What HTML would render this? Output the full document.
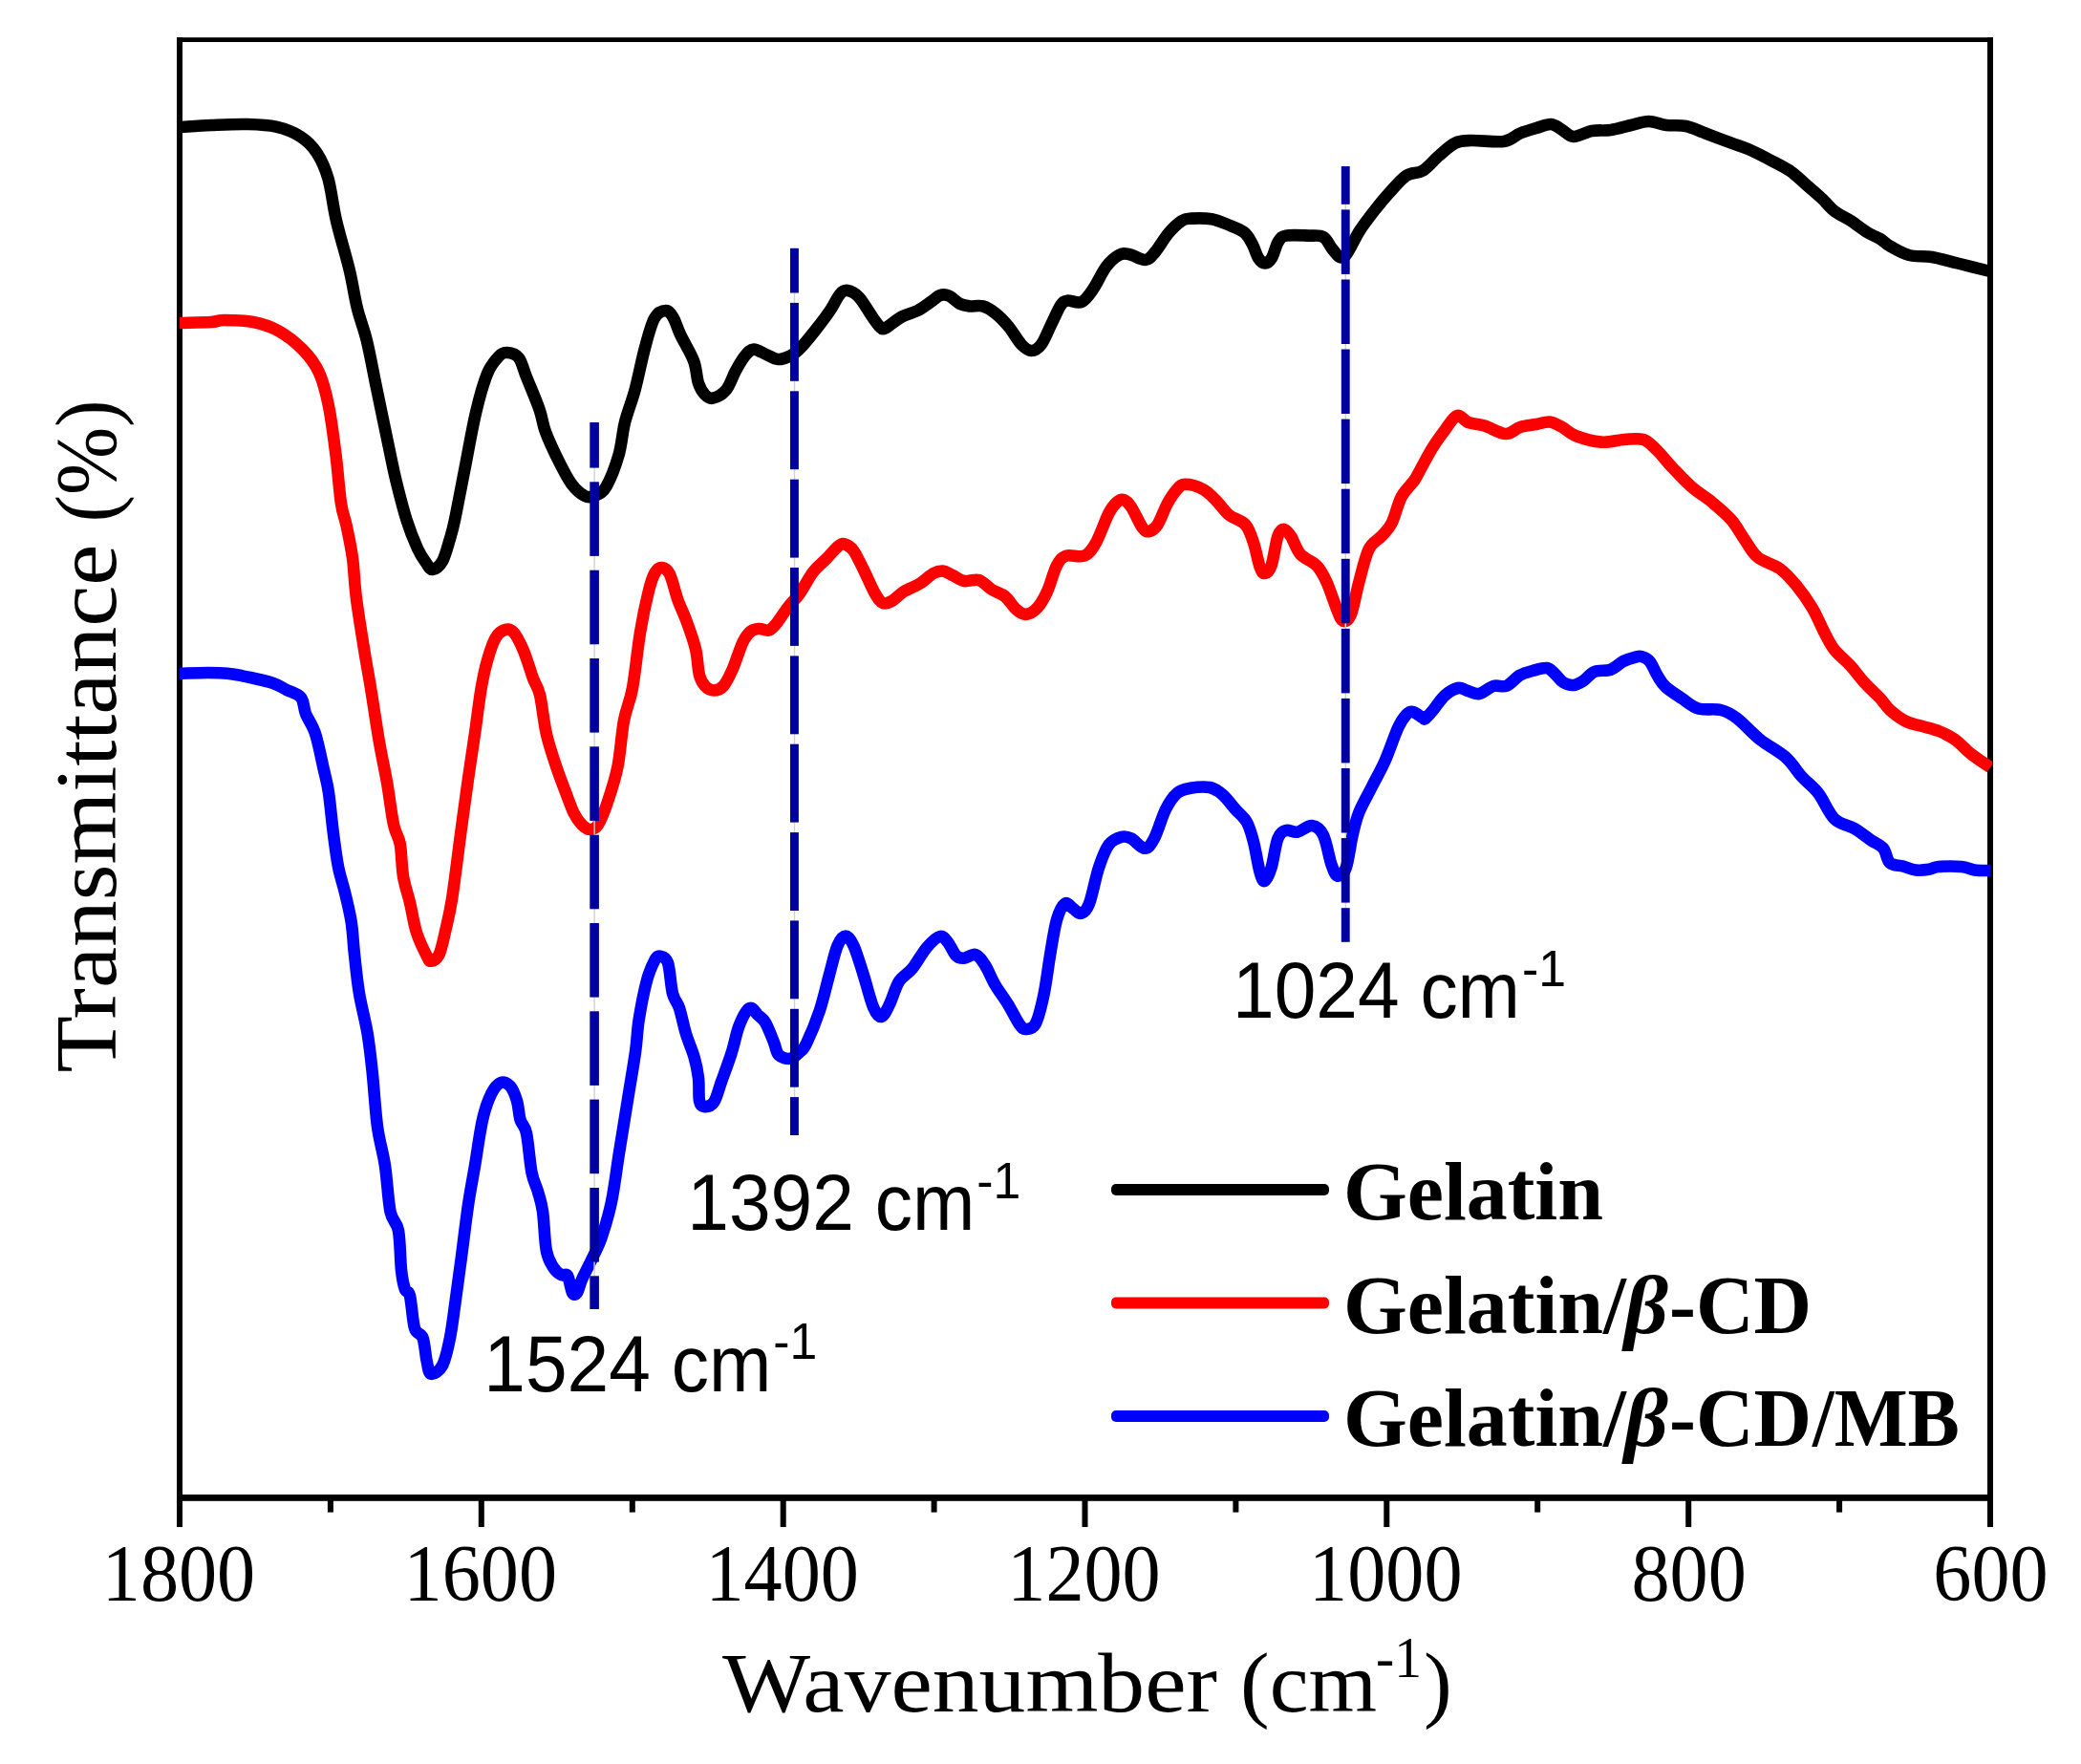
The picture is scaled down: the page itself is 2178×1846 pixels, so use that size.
<!DOCTYPE html>
<html><head><meta charset="utf-8"><title>FTIR spectra</title>
<style>
html,body{margin:0;padding:0;background:#fff;}
svg{display:block;}
.serif{font-family:"Liberation Serif","DejaVu Serif",serif;}
.sans{font-family:"Liberation Sans","DejaVu Sans",sans-serif;}
</style></head><body>
<svg width="2178" height="1846" viewBox="0 0 2178 1846">
<rect x="0" y="0" width="2178" height="1846" fill="#fff"/>
<defs><clipPath id="plot"><rect x="188" y="41.5" width="1897" height="1526"/></clipPath></defs>

<g fill="#000">
<rect x="185" y="39.2" width="6" height="1531.5"/>
<rect x="2080" y="39.2" width="6" height="1531.5"/>
<rect x="185" y="39.2" width="1901" height="4.8"/>
<rect x="185" y="1564" width="1901" height="6.8"/>
<rect x="185.0" y="1567" width="6" height="31"/>
<rect x="500.8" y="1567" width="6" height="31"/>
<rect x="816.7" y="1567" width="6" height="31"/>
<rect x="1132.5" y="1567" width="6" height="31"/>
<rect x="1448.3" y="1567" width="6" height="31"/>
<rect x="1764.2" y="1567" width="6" height="31"/>
<rect x="2080.0" y="1567" width="6" height="31"/>
<rect x="342.9" y="1567" width="6" height="15.6"/>
<rect x="658.8" y="1567" width="6" height="15.6"/>
<rect x="974.6" y="1567" width="6" height="15.6"/>
<rect x="1290.4" y="1567" width="6" height="15.6"/>
<rect x="1606.2" y="1567" width="6" height="15.6"/>
<rect x="1922.1" y="1567" width="6" height="15.6"/>
</g>
<g clip-path="url(#plot)" fill="none" stroke-linejoin="round" stroke-linecap="butt" stroke-width="12.6">
<path id="c-black" stroke="#000" d="M188.0 133.0C193.5 132.7 209.3 131.5 221.0 131.0C232.7 130.5 246.7 129.7 258.0 130.0C269.3 130.3 279.6 130.5 289.0 132.7C298.4 134.9 307.5 138.4 314.6 143.0C321.7 147.6 326.8 152.7 331.6 160.0C336.4 167.3 340.1 175.2 343.5 187.0C346.9 198.8 348.3 215.2 352.0 231.0C355.7 246.8 361.9 266.7 365.6 282.0C369.3 297.3 370.9 310.5 374.0 323.0C377.1 335.5 380.6 342.8 384.0 357.0C387.4 371.2 390.5 388.7 394.5 408.0C398.5 427.3 404.7 457.2 408.0 473.0C411.3 488.8 411.6 491.2 414.5 503.0C417.4 514.8 421.8 532.2 425.5 544.0C429.2 555.8 433.6 566.5 437.0 574.0C440.4 581.5 443.4 585.3 446.0 589.0C448.6 592.7 449.9 596.3 452.7 596.0C455.5 595.7 459.9 592.8 463.0 587.4C466.1 582.0 468.8 570.8 471.0 563.6C473.2 556.4 473.5 555.8 476.0 544.0C478.5 532.2 482.3 511.7 486.0 493.0C489.7 474.3 494.0 449.0 498.0 432.0C502.0 415.0 506.0 400.8 510.0 391.0C514.0 381.2 518.5 376.7 522.0 373.0C525.5 369.3 527.5 368.8 531.0 369.0C534.5 369.2 539.7 370.2 543.0 374.5C546.3 378.8 547.4 385.5 551.0 394.5C554.6 403.5 561.3 419.0 564.6 428.6C567.9 438.2 567.6 442.9 571.0 452.0C574.4 461.1 580.4 473.8 585.0 483.0C589.6 492.2 594.1 501.0 598.6 507.0C603.1 513.0 608.1 517.0 612.0 519.0C615.9 521.0 618.3 520.5 622.0 519.0C625.7 517.5 629.7 517.2 634.0 510.0C638.3 502.8 644.3 487.3 647.6 476.0C650.9 464.7 651.2 453.3 654.0 442.0C656.8 430.7 661.1 421.0 664.6 408.0C668.1 395.0 671.6 376.5 675.0 364.0C678.4 351.5 681.3 339.5 685.0 333.0C688.7 326.5 693.7 325.0 697.0 325.0C700.3 325.0 702.5 328.8 705.0 333.0C707.5 337.2 708.5 342.6 712.0 350.0C715.5 357.4 722.8 369.0 726.0 377.5C729.2 386.0 729.0 395.1 731.0 401.0C733.0 406.9 735.3 410.4 737.8 413.0C740.3 415.6 742.3 417.5 746.0 416.7C749.7 415.9 756.0 412.8 760.0 408.0C764.0 403.2 766.7 394.0 770.0 388.0C773.3 382.0 776.9 375.7 780.0 372.0C783.1 368.3 785.1 365.8 788.8 365.6C792.5 365.4 797.8 369.3 802.0 371.0C806.2 372.7 809.7 375.8 814.0 376.0C818.3 376.2 824.0 374.0 828.0 372.0C832.0 370.0 833.5 368.8 838.0 364.0C842.5 359.2 849.9 350.0 855.0 343.5C860.1 337.0 864.7 330.9 868.7 325.0C872.7 319.1 876.0 311.5 879.0 308.0C882.0 304.5 883.7 303.5 887.0 304.0C890.3 304.5 894.7 306.4 899.0 311.0C903.3 315.6 909.3 326.4 913.0 331.6C916.7 336.8 918.8 340.0 921.0 342.0C923.2 344.0 922.8 345.2 926.5 343.5C930.2 341.8 937.8 334.7 943.5 331.6C949.2 328.5 955.4 327.6 960.5 325.0C965.6 322.4 970.1 318.7 974.0 316.0C977.9 313.3 980.8 310.1 984.0 309.0C987.2 307.9 989.5 308.0 993.0 309.5C996.5 311.0 1001.1 316.2 1004.8 318.0C1008.5 319.8 1011.0 320.0 1015.0 320.4C1019.0 320.8 1024.1 319.1 1028.6 320.4C1033.1 321.7 1037.5 324.4 1042.0 328.0C1046.5 331.6 1051.3 336.6 1055.8 342.0C1060.3 347.4 1065.0 356.3 1069.0 360.5C1073.0 364.7 1076.1 367.0 1079.6 367.0C1083.1 367.0 1086.4 365.0 1089.8 360.5C1093.2 356.0 1096.6 346.8 1100.0 340.0C1103.4 333.2 1107.2 323.9 1110.0 319.7C1112.8 315.5 1113.3 315.2 1117.0 314.6C1120.7 314.0 1127.5 318.0 1132.0 316.0C1136.5 314.0 1139.7 308.9 1144.0 302.7C1148.3 296.5 1153.3 284.9 1157.8 279.0C1162.3 273.1 1167.0 269.2 1171.0 267.0C1175.0 264.8 1177.0 265.2 1181.6 266.0C1186.2 266.8 1194.1 272.3 1198.6 272.0C1203.1 271.7 1204.7 268.7 1208.8 264.0C1212.9 259.3 1218.3 249.5 1223.0 244.0C1227.7 238.5 1233.0 233.6 1237.0 231.0C1241.0 228.4 1241.8 228.9 1247.0 228.6C1252.2 228.3 1261.7 228.2 1268.0 229.3C1274.3 230.4 1279.3 232.7 1285.0 235.0C1290.7 237.3 1297.8 239.7 1302.0 243.0C1306.2 246.3 1308.0 250.5 1310.5 255.0C1313.0 259.5 1314.8 266.6 1317.0 270.0C1319.2 273.4 1321.7 275.5 1324.0 275.5C1326.3 275.5 1328.7 273.8 1331.0 270.0C1333.3 266.2 1335.3 256.9 1337.8 253.0C1340.3 249.1 1340.6 247.7 1346.0 246.6C1351.4 245.5 1363.5 246.4 1370.0 246.6C1376.5 246.8 1381.0 245.8 1385.0 248.0C1389.0 250.2 1391.2 256.5 1394.0 260.0C1396.8 263.5 1399.7 267.8 1402.0 269.0C1404.3 270.2 1406.0 269.3 1408.0 267.5C1410.0 265.7 1411.5 262.3 1414.0 258.0C1416.5 253.7 1419.0 247.7 1423.0 241.5C1427.0 235.3 1432.7 227.8 1438.0 221.0C1443.3 214.2 1449.3 206.9 1455.0 200.7C1460.7 194.5 1466.3 187.4 1472.0 183.7C1477.7 180.0 1483.3 182.0 1489.0 178.6C1494.7 175.2 1500.3 167.8 1506.0 163.0C1511.7 158.2 1517.3 152.4 1523.0 149.7C1528.7 147.0 1531.5 147.3 1540.0 147.0C1548.5 146.7 1565.5 149.2 1574.0 148.0C1582.5 146.8 1585.3 141.8 1591.0 139.5C1596.7 137.2 1602.6 135.6 1608.0 134.0C1613.4 132.4 1619.0 129.7 1623.5 130.0C1628.0 130.3 1631.1 133.8 1635.0 136.0C1638.9 138.2 1641.8 142.8 1647.0 143.0C1652.2 143.2 1659.5 138.2 1666.0 137.0C1672.5 135.8 1679.2 137.0 1686.0 136.0C1692.8 135.0 1700.4 132.5 1707.0 131.0C1713.6 129.5 1719.3 127.0 1725.5 127.0C1731.7 127.0 1737.5 130.2 1744.0 131.0C1750.5 131.8 1757.8 130.6 1764.6 132.0C1771.4 133.4 1777.1 136.6 1785.0 139.5C1792.9 142.4 1804.7 147.0 1812.0 149.7C1819.3 152.4 1822.7 153.1 1829.0 155.8C1835.3 158.5 1842.7 162.2 1850.0 166.0C1857.3 169.8 1866.3 174.0 1873.0 178.5C1879.7 183.0 1884.4 188.2 1890.0 193.0C1895.6 197.8 1901.6 202.8 1906.6 207.5C1911.6 212.2 1914.9 217.1 1920.0 221.0C1925.1 224.9 1931.3 227.3 1937.0 231.0C1942.7 234.7 1948.9 239.8 1954.0 243.0C1959.1 246.2 1963.8 247.6 1967.8 250.0C1971.8 252.4 1973.0 254.7 1978.0 257.5C1983.0 260.3 1990.7 265.1 1998.0 267.0C2005.3 268.9 2013.5 267.6 2022.0 269.0C2030.5 270.4 2038.8 273.0 2049.0 275.5C2059.2 278.0 2077.3 282.6 2083.0 284.0"/>
<path id="c-red" stroke="#ff0000" d="M188.0 338.0C193.5 337.8 213.2 337.5 221.0 337.0C228.8 336.5 227.4 335.0 234.7 335.0C242.0 335.0 255.6 335.2 265.0 337.0C274.4 338.8 282.3 341.2 291.0 346.0C299.7 350.8 309.8 358.7 317.0 366.0C324.2 373.3 329.5 380.2 334.0 390.0C338.5 399.8 341.1 410.7 344.0 425.0C346.9 439.3 349.3 459.0 351.5 476.0C353.7 493.0 355.1 514.7 357.0 527.0C358.9 539.3 360.6 540.5 362.6 550.0C364.6 559.5 367.3 571.5 369.0 584.0C370.7 596.5 370.8 609.2 372.8 625.0C374.8 640.8 378.5 663.2 381.0 679.0C383.5 694.8 385.4 704.1 388.0 720.0C390.6 735.9 393.8 758.0 396.6 774.5C399.4 791.0 402.4 804.0 405.0 818.7C407.6 833.5 409.7 852.3 412.0 863.0C414.3 873.7 417.0 874.0 418.7 883.0C420.4 892.0 420.3 906.7 422.0 917.0C423.7 927.3 426.7 934.9 429.0 944.6C431.3 954.3 432.9 965.9 435.7 975.0C438.5 984.1 443.4 993.9 446.0 999.0C448.6 1004.1 448.8 1005.8 451.0 1005.8C453.2 1005.8 457.0 1004.1 459.5 999.0C462.0 993.9 463.8 984.7 466.0 975.0C468.2 965.3 470.4 957.4 473.0 941.0C475.6 924.6 478.8 897.5 481.6 876.5C484.4 855.5 487.4 833.1 490.0 815.0C492.6 796.9 494.7 783.5 497.0 767.7C499.3 751.9 501.4 733.0 503.7 720.0C505.9 707.0 507.9 698.3 510.5 689.5C513.0 680.7 515.9 672.1 519.0 667.0C522.1 661.9 525.9 659.6 529.0 658.8C532.1 658.0 534.6 658.3 537.8 662.0C541.0 665.7 544.6 673.0 548.0 681.0C551.4 689.0 555.2 702.3 558.0 710.0C560.8 717.7 562.7 717.4 565.0 727.0C567.3 736.6 569.0 755.2 571.8 767.7C574.6 780.2 578.6 791.5 582.0 801.7C585.4 811.9 588.9 820.8 592.0 829.0C595.1 837.2 597.9 845.3 600.7 851.0C603.5 856.7 606.2 860.2 609.0 863.0C611.8 865.8 614.9 868.0 617.7 868.0C620.5 868.0 623.0 867.8 626.0 863.0C629.0 858.2 632.6 849.2 636.0 839.0C639.4 828.8 643.8 815.9 646.6 801.7C649.4 787.5 650.4 767.6 653.0 754.0C655.6 740.4 659.2 735.3 662.0 720.0C664.8 704.7 667.2 679.0 670.0 662.0C672.8 645.0 676.4 628.5 679.0 618.0C681.6 607.5 683.4 603.0 685.7 599.0C688.0 595.0 690.5 593.7 693.0 594.0C695.5 594.3 698.2 595.3 701.0 601.0C703.8 606.7 706.7 620.1 709.5 628.0C712.3 635.9 714.9 640.1 718.0 648.6C721.1 657.1 725.7 669.4 728.0 679.0C730.3 688.6 730.3 700.0 732.0 706.5C733.7 713.0 735.5 715.3 738.0 718.0C740.5 720.7 743.8 722.5 747.0 722.5C750.2 722.5 753.7 721.8 757.0 718.0C760.3 714.2 763.6 707.4 767.0 699.7C770.4 692.0 774.3 678.5 777.5 672.0C780.7 665.5 783.1 662.8 786.0 660.5C788.9 658.2 791.5 658.2 794.6 658.0C797.7 657.8 801.7 660.5 804.8 659.5C807.9 658.5 809.6 656.1 813.0 652.0C816.4 647.9 821.0 640.2 825.0 635.0C829.0 629.8 832.7 627.1 837.0 621.0C841.3 614.9 846.4 604.6 851.0 598.6C855.6 592.6 860.1 589.6 864.6 585.0C869.1 580.4 874.6 573.5 878.0 571.0C881.4 568.5 882.4 568.8 885.0 569.7C887.6 570.6 890.2 571.7 893.5 576.5C896.8 581.3 901.3 591.2 905.0 598.6C908.7 606.0 912.4 615.3 915.6 620.7C918.8 626.1 920.9 629.7 924.0 631.0C927.1 632.3 930.3 630.6 934.0 628.6C937.7 626.6 941.2 622.0 946.0 619.0C950.8 616.0 957.9 613.7 963.0 610.5C968.1 607.3 972.9 602.1 976.9 600.0C980.9 597.9 983.6 597.3 987.0 597.6C990.4 597.9 993.3 600.3 997.0 602.0C1000.7 603.7 1004.4 607.2 1009.0 608.0C1013.6 608.8 1019.7 605.5 1024.5 607.0C1029.3 608.5 1033.5 614.2 1038.0 617.0C1042.5 619.8 1047.4 620.5 1051.7 624.0C1056.0 627.5 1059.9 634.6 1063.6 637.8C1067.3 640.9 1070.1 643.2 1073.8 642.9C1077.5 642.6 1082.0 640.0 1085.7 636.0C1089.4 632.0 1092.6 626.4 1096.0 619.0C1099.4 611.6 1102.7 598.0 1106.0 591.8C1109.3 585.6 1111.2 583.3 1116.0 581.6C1120.8 579.9 1129.8 583.9 1135.0 581.6C1140.2 579.3 1142.8 575.4 1147.0 568.0C1151.2 560.6 1156.8 544.1 1160.5 537.0C1164.2 529.9 1166.4 527.8 1169.0 525.5C1171.6 523.2 1173.4 522.1 1175.9 523.0C1178.4 523.9 1180.7 525.6 1184.0 530.6C1187.3 535.6 1192.8 548.5 1196.0 552.7C1199.2 556.9 1200.4 556.6 1203.0 556.0C1205.6 555.4 1208.5 553.8 1211.6 549.0C1214.7 544.2 1218.4 533.2 1221.8 527.0C1225.2 520.8 1228.9 515.4 1232.0 512.0C1235.1 508.6 1236.0 506.8 1240.5 506.8C1245.0 506.8 1253.6 509.2 1259.0 512.0C1264.4 514.8 1268.2 519.3 1272.8 523.8C1277.4 528.3 1281.3 534.8 1286.4 539.0C1291.5 543.2 1299.1 544.2 1303.4 549.0C1307.7 553.8 1309.5 560.6 1312.0 568.0C1314.5 575.4 1316.7 588.2 1318.7 593.5C1320.7 598.8 1321.8 600.3 1323.8 600.0C1325.8 599.7 1328.3 598.3 1330.6 591.8C1332.9 585.3 1335.2 567.4 1337.4 561.0C1339.6 554.6 1341.2 553.7 1343.5 553.7C1345.8 553.7 1348.1 556.6 1351.0 561.0C1353.9 565.4 1356.5 574.9 1361.0 580.0C1365.5 585.1 1373.4 587.0 1378.0 591.8C1382.6 596.6 1385.0 601.4 1388.4 608.8C1391.8 616.2 1395.8 629.2 1398.6 636.0C1401.4 642.8 1402.8 648.6 1405.4 649.7C1408.0 650.9 1411.2 649.7 1414.0 642.9C1416.8 636.1 1419.3 620.1 1422.4 608.8C1425.5 597.4 1428.7 582.8 1432.6 574.8C1436.5 566.8 1442.0 565.5 1446.0 561.0C1450.0 556.5 1453.0 554.4 1456.5 547.6C1460.0 540.8 1462.8 527.4 1466.7 520.0C1470.6 512.6 1476.8 507.5 1480.0 503.0C1483.2 498.5 1482.5 498.7 1485.7 493.0C1488.9 487.3 1494.5 476.3 1499.0 469.0C1503.5 461.7 1508.7 454.7 1513.0 449.0C1517.3 443.3 1521.0 436.2 1525.0 435.0C1529.0 433.8 1531.9 440.2 1536.7 442.0C1541.5 443.8 1547.2 443.6 1553.7 445.6C1560.2 447.6 1569.7 453.8 1575.9 454.0C1582.1 454.2 1585.7 448.7 1591.0 447.0C1596.3 445.3 1602.9 444.9 1608.0 444.0C1613.1 443.1 1617.3 441.0 1621.8 441.5C1626.3 442.0 1630.5 444.6 1635.0 447.0C1639.5 449.4 1642.2 453.4 1649.0 456.0C1655.8 458.6 1667.5 461.9 1676.0 462.6C1684.5 463.3 1692.7 460.4 1700.0 460.0C1707.3 459.6 1714.3 458.2 1720.0 460.0C1725.7 461.8 1728.8 466.0 1734.0 471.0C1739.2 476.0 1744.8 483.5 1751.0 490.0C1757.2 496.5 1764.2 504.1 1771.0 510.0C1777.8 515.9 1785.0 519.8 1791.8 525.5C1798.6 531.2 1806.3 537.5 1812.0 544.0C1817.7 550.5 1821.3 558.1 1825.9 564.6C1830.5 571.1 1833.4 577.9 1839.5 583.0C1845.6 588.1 1855.9 590.2 1862.6 595.0C1869.3 599.8 1873.9 605.2 1879.6 612.0C1885.3 618.8 1891.5 627.5 1896.6 636.0C1901.7 644.5 1906.1 655.7 1910.0 663.0C1913.9 670.3 1915.5 674.3 1920.0 680.0C1924.5 685.7 1931.8 691.3 1937.0 697.0C1942.2 702.7 1945.8 708.3 1951.0 714.0C1956.2 719.7 1963.5 726.2 1968.0 731.0C1972.5 735.8 1973.5 739.0 1978.0 743.0C1982.5 747.0 1989.3 752.2 1995.0 755.0C2000.7 757.8 2006.3 758.3 2012.0 760.0C2017.7 761.7 2023.3 762.7 2029.0 765.0C2034.7 767.3 2040.3 769.8 2046.0 773.8C2051.7 777.8 2056.8 784.1 2063.0 789.0C2069.2 793.9 2079.7 800.7 2083.0 803.0"/>
<path id="c-blue" stroke="#0000ff" d="M188.0 704.8C193.0 704.7 209.7 704.0 218.0 704.0C226.3 704.0 230.7 704.0 238.0 704.8C245.3 705.6 254.0 707.3 262.0 709.0C270.0 710.7 279.7 712.9 286.0 715.0C292.3 717.1 294.9 719.3 299.7 721.8C304.5 724.3 311.6 725.8 315.0 730.0C318.4 734.2 317.5 740.7 320.0 747.0C322.5 753.3 326.9 758.0 330.0 767.7C333.1 777.4 336.5 794.8 338.8 805.0C341.1 815.2 342.2 817.7 343.9 829.0C345.6 840.3 347.3 860.0 349.0 873.0C350.7 886.0 352.0 896.8 354.0 907.0C356.0 917.2 358.7 924.3 361.0 934.0C363.3 943.7 366.0 954.2 367.7 965.0C369.4 975.8 369.6 986.5 371.0 999.0C372.4 1011.5 373.7 1026.0 376.0 1039.8C378.3 1053.6 382.4 1068.1 384.7 1082.0C387.0 1095.9 388.1 1106.8 389.8 1123.0C391.5 1139.2 392.8 1162.8 395.0 1179.0C397.2 1195.2 400.8 1205.2 403.0 1220.0C405.2 1234.8 406.2 1256.4 408.5 1267.7C410.8 1279.0 415.1 1277.8 417.0 1288.0C418.9 1298.2 418.9 1318.8 420.0 1329.0C421.1 1339.2 422.3 1344.5 423.8 1349.0C425.3 1353.5 427.3 1349.2 429.0 1356.0C430.7 1362.8 431.8 1382.7 434.0 1390.0C436.2 1397.3 440.4 1394.3 442.5 1400.0C444.6 1405.7 445.2 1417.7 446.6 1424.0C448.0 1430.3 448.3 1437.0 451.0 1437.8C453.7 1438.6 459.7 1435.3 463.0 1429.0C466.3 1422.7 468.8 1411.0 471.0 1400.0C473.2 1389.0 474.5 1377.2 476.5 1363.0C478.5 1348.8 480.8 1332.0 483.0 1315.0C485.2 1298.0 487.7 1276.8 490.0 1261.0C492.3 1245.2 494.5 1234.8 497.0 1220.0C499.5 1205.2 502.2 1184.5 505.0 1172.0C507.8 1159.5 510.8 1151.5 514.0 1145.0C517.2 1138.5 520.7 1134.4 524.0 1133.0C527.3 1131.6 531.2 1133.5 534.0 1136.7C536.8 1139.9 539.2 1146.1 541.0 1152.0C542.8 1157.9 542.9 1166.3 544.6 1172.0C546.3 1177.7 549.0 1176.8 551.0 1186.0C553.0 1195.2 554.5 1216.8 556.5 1227.0C558.5 1237.2 561.1 1240.2 563.0 1247.0C564.9 1253.8 566.5 1257.5 568.0 1267.7C569.5 1278.0 570.0 1298.9 571.8 1308.5C573.6 1318.1 576.1 1321.2 578.6 1325.5C581.1 1329.8 584.4 1332.4 587.0 1334.0C589.6 1335.6 592.0 1331.9 594.0 1335.0C596.0 1338.1 597.3 1349.8 599.0 1352.7C600.7 1355.7 602.3 1355.0 604.0 1352.7C605.7 1350.4 606.5 1344.7 609.0 1339.0C611.5 1333.3 615.6 1326.0 619.0 1318.7C622.4 1311.4 626.1 1305.2 629.6 1295.0C633.1 1284.8 636.9 1272.2 640.0 1257.5C643.1 1242.8 645.2 1224.1 648.0 1206.5C650.8 1188.9 654.0 1169.6 656.8 1152.0C659.6 1134.4 663.0 1115.2 665.0 1101.0C667.0 1086.8 666.7 1079.5 668.7 1067.0C670.7 1054.5 674.2 1036.5 677.0 1026.0C679.8 1015.5 683.4 1008.2 685.7 1004.0C688.0 999.8 688.6 1000.1 690.8 1000.7C693.0 1001.3 696.8 1001.0 699.0 1007.5C701.2 1014.0 702.0 1031.9 704.0 1039.8C706.0 1047.7 708.7 1048.0 711.0 1055.0C713.3 1062.0 715.4 1073.5 718.0 1082.0C720.6 1090.5 724.3 1098.3 726.5 1106.0C728.7 1113.7 730.1 1120.3 731.0 1128.0C731.9 1135.7 731.0 1147.0 732.0 1152.0C733.0 1157.0 734.2 1157.7 736.7 1158.0C739.2 1158.3 744.0 1158.0 747.0 1153.7C750.0 1149.4 751.9 1140.6 755.0 1132.0C758.1 1123.4 762.6 1111.5 765.6 1102.0C768.6 1092.5 770.4 1082.2 773.0 1075.0C775.6 1067.8 778.7 1061.8 781.0 1058.5C783.3 1055.2 784.7 1054.4 786.7 1055.0C788.7 1055.6 790.6 1059.5 793.0 1062.0C795.4 1064.5 798.2 1065.2 801.0 1070.0C803.8 1074.8 807.7 1085.1 810.0 1090.8C812.3 1096.5 812.2 1101.2 815.0 1104.0C817.8 1106.8 823.3 1108.3 827.0 1107.8C830.7 1107.3 834.2 1103.6 837.0 1101.0C839.8 1098.4 840.5 1099.2 844.0 1092.0C847.5 1084.8 853.8 1069.8 857.8 1057.8C861.8 1045.8 864.9 1031.3 868.0 1020.0C871.1 1008.7 873.7 996.5 876.5 989.8C879.3 983.1 882.2 979.6 885.0 979.6C887.8 979.6 890.4 983.1 893.5 989.8C896.6 996.5 900.3 1009.3 903.7 1020.0C907.1 1030.7 910.9 1046.7 914.0 1054.0C917.1 1061.3 919.6 1064.5 922.4 1064.0C925.2 1063.5 927.9 1057.2 931.0 1051.0C934.1 1044.8 937.0 1033.2 941.0 1027.0C945.0 1020.8 950.0 1019.5 954.8 1013.6C959.6 1007.7 965.2 997.1 970.0 991.5C974.8 985.9 980.0 980.9 983.7 980.0C987.4 979.1 989.2 982.7 992.0 986.0C994.8 989.3 997.9 997.2 1000.7 1000.0C1003.5 1002.8 1005.6 1002.9 1009.0 1002.7C1012.4 1002.5 1017.3 997.8 1021.0 999.0C1024.7 1000.2 1027.6 1004.7 1031.0 1010.0C1034.4 1015.3 1037.5 1023.8 1041.5 1030.6C1045.5 1037.4 1050.8 1044.1 1055.0 1051.0C1059.2 1057.9 1063.9 1067.7 1067.0 1072.0C1070.1 1076.3 1071.0 1077.2 1073.8 1077.0C1076.6 1076.8 1080.9 1077.0 1084.0 1071.0C1087.1 1065.0 1090.0 1052.6 1092.5 1040.8C1095.0 1029.0 1096.8 1013.0 1099.0 1000.0C1101.2 987.0 1103.4 971.7 1106.0 962.6C1108.6 953.5 1111.8 947.6 1114.6 945.6C1117.4 943.6 1120.2 949.0 1123.0 950.7C1125.8 952.4 1128.8 956.6 1131.6 955.8C1134.4 954.9 1136.9 953.6 1140.0 945.6C1143.1 937.6 1146.6 918.3 1150.0 908.0C1153.4 897.7 1156.5 889.4 1160.5 884.0C1164.5 878.6 1170.1 876.9 1174.0 875.8C1177.9 874.7 1180.0 875.5 1184.0 877.5C1188.0 879.5 1194.0 887.7 1198.0 887.7C1202.0 887.7 1204.3 884.3 1208.0 877.5C1211.7 870.7 1216.0 854.9 1220.0 847.0C1224.0 839.1 1227.7 833.7 1232.0 830.0C1236.3 826.3 1239.9 825.8 1245.6 824.8C1251.3 823.8 1260.3 822.9 1266.0 824.0C1271.7 825.1 1275.1 827.8 1279.6 831.6C1284.1 835.4 1288.8 842.2 1293.0 847.0C1297.2 851.8 1301.8 854.8 1305.0 860.5C1308.2 866.2 1309.7 872.2 1312.0 881.0C1314.3 889.8 1316.7 906.2 1318.7 913.0C1320.7 919.8 1321.8 922.6 1323.8 921.8C1325.8 921.0 1328.3 915.4 1330.6 908.0C1332.9 900.6 1334.8 884.0 1337.4 877.5C1340.0 871.0 1342.6 870.1 1346.0 869.0C1349.4 867.9 1353.3 871.5 1357.8 870.7C1362.3 869.9 1368.5 863.5 1373.0 864.0C1377.5 864.5 1381.6 867.2 1385.0 874.0C1388.4 880.8 1391.0 897.7 1393.5 904.8C1396.0 911.9 1397.5 916.2 1400.0 916.7C1402.5 917.2 1406.2 915.1 1408.8 908.0C1411.4 900.9 1413.3 883.7 1415.6 874.0C1417.9 864.3 1419.0 858.5 1422.4 850.0C1425.8 841.5 1431.5 832.0 1436.0 823.0C1440.5 814.0 1445.2 806.2 1449.7 796.0C1454.2 785.8 1459.3 770.0 1463.0 762.0C1466.7 754.0 1469.2 750.8 1471.8 748.0C1474.4 745.2 1475.8 744.5 1478.6 745.0C1481.4 745.5 1486.6 749.8 1488.8 751.0C1491.0 752.2 1489.9 753.3 1491.8 752.0C1493.7 750.7 1496.6 747.0 1500.0 743.0C1503.4 739.0 1507.7 731.8 1512.0 728.0C1516.3 724.2 1521.9 720.9 1525.9 720.0C1529.9 719.1 1532.3 721.8 1536.0 722.8C1539.7 723.8 1543.5 726.8 1548.0 726.0C1552.5 725.2 1558.2 719.4 1563.0 718.0C1567.8 716.6 1572.3 719.6 1576.9 717.7C1581.5 715.8 1586.0 709.4 1590.5 706.8C1595.0 704.2 1599.2 703.3 1604.0 702.0C1608.8 700.7 1615.0 698.4 1619.0 699.0C1623.0 699.6 1625.1 703.3 1627.9 705.8C1630.7 708.3 1632.9 712.1 1636.0 714.0C1639.1 715.9 1643.1 717.2 1646.6 717.0C1650.1 716.8 1653.3 714.9 1657.0 712.6C1660.7 710.3 1663.9 705.0 1668.7 703.0C1673.5 701.0 1680.7 702.5 1685.7 700.7C1690.8 698.9 1694.8 694.1 1699.0 692.0C1703.2 689.9 1707.8 688.6 1711.0 687.8C1714.2 687.0 1715.4 686.3 1718.0 687.0C1720.6 687.7 1723.7 688.6 1726.5 692.0C1729.3 695.4 1732.2 703.0 1735.0 707.5C1737.8 712.0 1739.2 715.1 1743.5 719.0C1747.8 722.9 1754.8 727.2 1760.5 731.0C1766.2 734.8 1770.8 739.5 1777.5 741.5C1784.2 743.5 1794.2 741.3 1801.0 743.0C1807.8 744.7 1811.2 746.6 1818.0 751.7C1824.8 756.8 1833.5 767.0 1842.0 773.8C1850.5 780.6 1861.7 786.0 1869.0 792.5C1876.3 799.0 1880.3 806.8 1886.0 813.0C1891.7 819.2 1897.3 822.7 1903.0 830.0C1908.7 837.3 1913.7 850.8 1920.0 857.0C1926.3 863.2 1934.5 863.3 1940.8 867.0C1947.1 870.7 1952.8 875.5 1957.8 879.0C1962.8 882.5 1967.6 883.7 1971.0 887.7C1974.4 891.7 1974.5 899.9 1978.0 903.0C1981.5 906.1 1987.3 905.2 1991.8 906.5C1996.3 907.8 2000.5 910.0 2005.0 910.5C2009.5 911.0 2015.0 910.4 2019.0 909.8C2023.0 909.2 2023.3 907.5 2029.0 907.0C2034.7 906.5 2046.7 906.4 2053.0 907.0C2059.3 907.6 2061.7 909.8 2066.7 910.5C2071.7 911.2 2080.3 910.9 2083.0 911.0"/>
</g>
<g id="dashes">
<line x1="622.1" y1="442.0" x2="622.1" y2="1370.0" stroke="#d0d0d0" stroke-width="1.4"/><g fill="#0000a0"><rect x="617.3" y="442.0" width="9.6" height="47.6"/><rect x="617.3" y="504.3" width="9.6" height="77.6"/><rect x="617.3" y="596.7" width="9.6" height="77.6"/><rect x="617.3" y="689.0" width="9.6" height="77.6"/><rect x="617.3" y="781.3" width="9.6" height="77.6"/><rect x="617.3" y="873.7" width="9.6" height="77.6"/><rect x="617.3" y="966.0" width="9.6" height="77.6"/><rect x="617.3" y="1058.3" width="9.6" height="77.6"/><rect x="617.3" y="1150.6" width="9.6" height="77.6"/><rect x="617.3" y="1243.0" width="9.6" height="77.6"/><rect x="617.3" y="1335.3" width="9.6" height="34.7"/></g>
<line x1="831.5" y1="259.8" x2="831.5" y2="1188.0" stroke="#d0d0d0" stroke-width="1.4"/><g fill="#0000a0"><rect x="827.0" y="259.8" width="8.9" height="46.7"/><rect x="827.0" y="316.9" width="8.9" height="81.9"/><rect x="827.0" y="409.3" width="8.9" height="81.9"/><rect x="827.0" y="501.7" width="8.9" height="81.9"/><rect x="827.0" y="594.0" width="8.9" height="81.9"/><rect x="827.0" y="686.4" width="8.9" height="81.9"/><rect x="827.0" y="778.7" width="8.9" height="81.9"/><rect x="827.0" y="871.1" width="8.9" height="81.9"/><rect x="827.0" y="963.4" width="8.9" height="81.9"/><rect x="827.0" y="1055.8" width="8.9" height="81.9"/><rect x="827.0" y="1148.1" width="8.9" height="39.9"/></g>
<line x1="1408.3" y1="174.0" x2="1408.3" y2="985.8" stroke="#d0d0d0" stroke-width="1.4"/><g fill="#0000a0"><rect x="1403.8" y="174.0" width="8.9" height="39.8"/><rect x="1403.8" y="219.4" width="8.9" height="67.5"/><rect x="1403.8" y="292.5" width="8.9" height="67.5"/><rect x="1403.8" y="365.5" width="8.9" height="67.5"/><rect x="1403.8" y="438.6" width="8.9" height="67.5"/><rect x="1403.8" y="511.7" width="8.9" height="67.5"/><rect x="1403.8" y="584.8" width="8.9" height="67.5"/><rect x="1403.8" y="657.9" width="8.9" height="67.5"/><rect x="1403.8" y="730.9" width="8.9" height="67.5"/><rect x="1403.8" y="804.0" width="8.9" height="67.5"/><rect x="1403.8" y="877.1" width="8.9" height="67.5"/><rect x="1403.8" y="950.2" width="8.9" height="35.6"/></g>
</g>
<g class="serif" font-size="84" fill="#000">
<text x="106.8" y="1675.4" textLength="160.4" lengthAdjust="spacingAndGlyphs">1800</text>
<text x="422.6" y="1675.4" textLength="160.4" lengthAdjust="spacingAndGlyphs">1600</text>
<text x="738.5" y="1675.4" textLength="160.4" lengthAdjust="spacingAndGlyphs">1400</text>
<text x="1054.3" y="1675.4" textLength="160.4" lengthAdjust="spacingAndGlyphs">1200</text>
<text x="1370.1" y="1675.4" textLength="160.4" lengthAdjust="spacingAndGlyphs">1000</text>
<text x="1707.5" y="1675.4" textLength="120.3" lengthAdjust="spacingAndGlyphs">800</text>
<text x="2023.3" y="1675.4" textLength="120.3" lengthAdjust="spacingAndGlyphs">600</text>
</g>
<g class="serif" fill="#000" font-size="89">
<text id="xt1" x="756" y="1790.6" textLength="518" lengthAdjust="spacingAndGlyphs">Wavenumber</text>
<text id="xt2" x="1298" y="1790.6" textLength="143" lengthAdjust="spacingAndGlyphs">(cm</text>
<text id="xsup" x="1440" y="1754.8" font-size="61" textLength="48" lengthAdjust="spacingAndGlyphs">-1</text>
<text id="xpar" x="1490" y="1790.6">)</text>
<g transform="translate(120.9 0) rotate(-90)" font-size="90.5">
<text id="yt1" x="-1122.5" y="0" textLength="553" lengthAdjust="spacingAndGlyphs">Transmittance</text>
<text id="yt2" x="-546.5" y="0" textLength="128" lengthAdjust="spacingAndGlyphs">(%)</text>
</g></g>
<g class="sans" fill="#000">
<text x="506.3" y="1455.6" font-size="82.5" textLength="301" lengthAdjust="spacingAndGlyphs">1524 cm</text><text x="809.3" y="1422.4" font-size="54.5" textLength="46" lengthAdjust="spacingAndGlyphs">-1</text>
<text x="719.3" y="1286.7" font-size="82.5" textLength="301" lengthAdjust="spacingAndGlyphs">1392 cm</text><text x="1022.3" y="1253.5" font-size="54.5" textLength="46" lengthAdjust="spacingAndGlyphs">-1</text>
<text x="1290.0" y="1065.2" font-size="82.5" textLength="301" lengthAdjust="spacingAndGlyphs">1024 cm</text><text x="1593.0" y="1032.0" font-size="54.5" textLength="46" lengthAdjust="spacingAndGlyphs">-1</text>
</g>
<g id="legend-lines">
<rect x="1163" y="1239" width="228" height="12" rx="5" fill="#000"/>
<rect x="1163" y="1357.5" width="228" height="12" rx="5" fill="#ff0000"/>
<rect x="1163" y="1476" width="228" height="12" rx="5" fill="#0000ff"/>
</g>
<g class="serif" font-weight="bold" font-size="86" fill="#000">
<text id="lgA1" x="1406" y="1275.9" textLength="272" lengthAdjust="spacingAndGlyphs">Gelatin</text>
<text id="lgA2" x="1406" y="1394.6" textLength="296" lengthAdjust="spacingAndGlyphs">Gelatin/</text><text id="lgB2" x="1700" y="1394.6" font-style="italic" textLength="46" lengthAdjust="spacingAndGlyphs">β</text><text id="lgC2" x="1747" y="1394.6" textLength="149" lengthAdjust="spacingAndGlyphs">-CD</text>
<text id="lgA3" x="1406" y="1513.2" textLength="296" lengthAdjust="spacingAndGlyphs">Gelatin/</text><text id="lgB3" x="1700" y="1513.2" font-style="italic" textLength="46" lengthAdjust="spacingAndGlyphs">β</text><text id="lgC3" x="1747" y="1513.2" textLength="149" lengthAdjust="spacingAndGlyphs">-CD</text><text id="lgD3" x="1897" y="1513.2" textLength="154" lengthAdjust="spacingAndGlyphs">/MB</text>
</g>
</svg></body></html>
